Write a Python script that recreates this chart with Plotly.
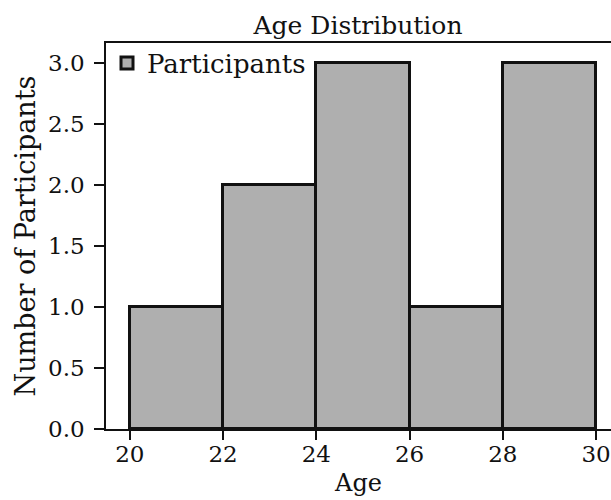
import plotly.graph_objects as go

bin_starts = [20, 22, 24, 26, 28]
bin_width = 2
counts = [1, 2, 3, 1, 3]
x_ticks = [20, 22, 24, 26, 28, 30]
y_ticks = [0.0, 0.5, 1.0, 1.5, 2.0, 2.5, 3.0]

centers = [s + bin_width / 2 for s in bin_starts]

FONT = "DejaVu Serif"
FS = 23

fig = go.Figure()
fig.add_trace(go.Bar(
    x=centers, y=counts, width=[bin_width] * len(centers),
    name="Participants", showlegend=True,
    marker=dict(color="#afafaf", line=dict(color="#111111", width=3)),
))

fig.update_layout(
    width=611, height=500,
    margin=dict(l=106, r=0, t=43, b=71),
    paper_bgcolor="white", plot_bgcolor="white",
    font=dict(family=FONT, size=FS, color="#111111"),
    title=dict(text="Age Distribution", x=0.586, xanchor="center",
               y=1 - 25 / 500, yanchor="middle", yref="container",
               font=dict(family=FONT, size=25, color="#111111")),
    bargap=0,
    legend=dict(x=0.002, y=1.009, xanchor="left", yanchor="top",
                bgcolor="rgba(0,0,0,0)", font=dict(size=26),
                itemwidth=30, tracegroupgap=0),
    xaxis=dict(range=[19.49, 30.32], tickvals=x_ticks,
               ticktext=[str(v) for v in x_ticks],
               showgrid=False, zeroline=False,
               showline=True, linecolor="#111111", linewidth=2, mirror=True,
               ticks="outside", ticklen=9, tickwidth=2, tickcolor="#111111",
               ticklabelstandoff=-6, ticklabeloverflow="allow",
               title=dict(text="Age", standoff=9, font=dict(size=24)),
               tickfont=dict(size=FS)),
    yaxis=dict(range=[0, 3.165], tickvals=y_ticks,
               ticktext=[f"{v:.1f}" for v in y_ticks],
               showgrid=False, zeroline=False,
               showline=True, linecolor="#111111", linewidth=1.5,
               ticks="outside", ticklen=10, tickwidth=2, tickcolor="#111111",
               ticklabelstandoff=5,
               title=dict(text="Number of Participants", standoff=5,
                          font=dict(size=27)),
               tickfont=dict(size=FS)),
)

fig.write_html(
    "out.html",
    config={"displayModeBar": False},
    post_script="document.body.style.margin='0';document.body.style.overflow='hidden';",
)
